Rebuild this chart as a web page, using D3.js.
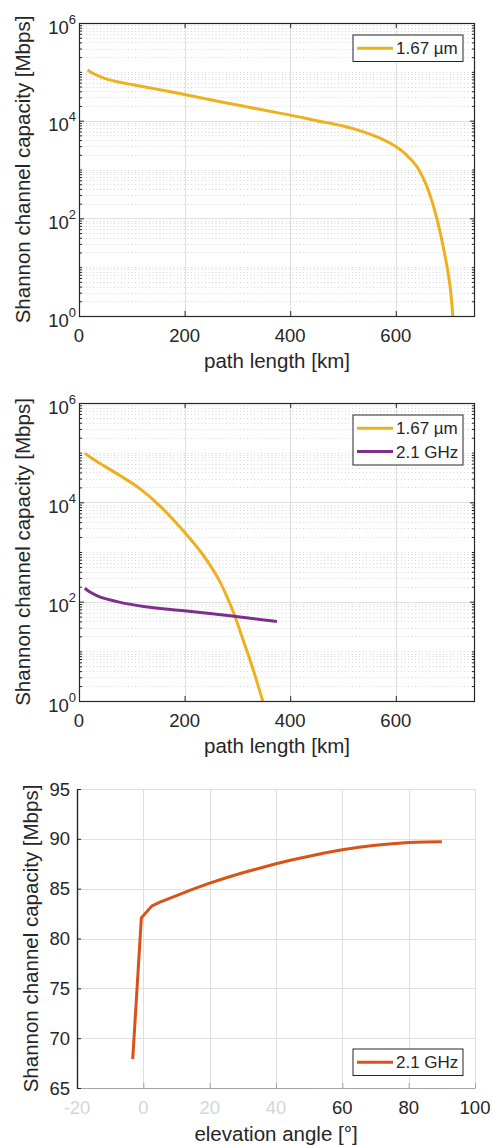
<!DOCTYPE html>
<html>
<head>
<meta charset="utf-8">
<script src="https://cdn.jsdelivr.net/npm/d3@7"></script>
<style>
  html, body { margin: 0; padding: 0; background: #fff; }
  svg text { font-family: "Liberation Sans", Arial, Helvetica, sans-serif; fill: #262626; }
</style>
</head>
<body>
<svg id="fig" width="492" height="1145"></svg>
<script>
// ---- Panel 1: 1.67 µm capacity vs path length ----
const pathA_167um = [16, 30, 50, 75, 100, 150, 200, 300, 400, 450, 500, 530, 570, 600, 620, 640, 655, 667, 680, 692, 702, 708];
const capA_167um  = [1.096e5, 8.91e4, 7.24e4, 6.17e4, 5.5e4, 4.37e4, 3.43e4, 2.09e4, 1.30e4, 1.0e4, 7.76e3, 6.31e3, 4.37e3, 2.95e3, 2.0e3, 1.15e3, 562, 251, 79, 20, 4.7, 1.0];

// ---- Panel 2: 1.67 µm and 2.1 GHz capacity vs path length ----
const pathB_167um = [11, 25, 40, 76, 114, 151, 199, 233, 265, 290, 315, 334, 348];
const capB_167um  = [9.77e4, 7.59e4, 6.03e4, 3.55e4, 1.93e4, 8.9e3, 2.57e3, 933, 275, 71, 12.6, 3.1, 1.0];
const pathB_21GHz = [11, 20, 38, 76, 126, 199, 290, 375];
const capB_21GHz  = [186, 158, 126, 98, 79.4, 65.3, 51.3, 39.8];

// ---- Panel 3: 2.1 GHz capacity vs elevation angle ----
const elevC_21GHz = [-3.2, -0.6, 2.5, 5, 10, 15, 20, 25, 30, 35, 40, 45, 50, 55, 60, 65, 70, 75, 80, 85, 90];
const capC_21GHz  = [67.9, 82.06, 83.25, 83.65, 84.3, 84.95, 85.55, 86.1, 86.6, 87.05, 87.5, 87.9, 88.25, 88.6, 88.9, 89.15, 89.35, 89.5, 89.62, 89.68, 89.7];

// ---- Axis ticks ----
const pathTicks = [0, 200, 400, 600];
const logTickExponents = [0, 2, 4, 6];
const elevTicks = [-20, 0, 20, 40, 60, 80, 100];
const capTicks = [65, 70, 75, 80, 85, 90, 95];

const legendLabels = { um: "1.67 µm", ghz: "2.1 GHz" };

const INK = "#262626";
const GRID = "#dfdfdf";
const MINOR = "#d6d6d6";
const COL_YEL = "#EDB120", COL_PUR = "#7E2F8E", COL_ORA = "#D95319";
const TICK_FS = 18.5, TITLE_FS = 20.5;

const svg = d3.select("#fig");
const zip = (xs, ys) => xs.map((v, i) => [v, ys[i]]);

function legend(g, x0, y0, items) {
  const h = 26.5 + (items.length - 1) * 23.5;
  const lg = g.append("g");
  lg.append("rect").attr("x", x0).attr("y", y0).attr("width", 110).attr("height", h)
    .attr("fill", "#fff").attr("stroke", INK).attr("stroke-width", 1);
  items.forEach((it, i) => {
    const yy = y0 + 13.3 + i * 23.3;
    lg.append("line").attr("x1", x0 + 4).attr("x2", x0 + 40).attr("y1", yy).attr("y2", yy)
      .attr("stroke", it.color).attr("stroke-width", 3);
    lg.append("text").attr("x", x0 + 43).attr("y", yy + 6).attr("font-size", 17).text(it.label);
  });
}

function logPanel(top, bottom, series, legendItems) {
  const L = 79, R = 475;
  const g = svg.append("g");
  const x = d3.scaleLinear().domain([0, 750]).range([L, R]);
  const y = d3.scaleLog().domain([1, 1e6]).range([bottom, top]);

  // minor (dotted) and major (solid) horizontal grid
  const minorVals = [];
  for (let k = 0; k < 6; k++) {
    for (let m = 2; m <= 9; m++) minorVals.push(m * Math.pow(10, k));
    if (k % 2 === 1) minorVals.push(Math.pow(10, k));
  }
  g.append("g").selectAll("line").data(minorVals).join("line")
    .attr("x1", L).attr("x2", R)
    .attr("y1", d => Math.round(y(d)) + 0.5).attr("y2", d => Math.round(y(d)) + 0.5)
    .attr("stroke", MINOR).attr("stroke-width", 1).attr("stroke-dasharray", "1,2.5");
  g.append("g").selectAll("line").data([1e2, 1e4]).join("line")
    .attr("x1", L).attr("x2", R)
    .attr("y1", d => Math.round(y(d)) + 0.5).attr("y2", d => Math.round(y(d)) + 0.5)
    .attr("stroke", GRID).attr("stroke-width", 1);
  g.append("g").selectAll("line").data(pathTicks.slice(1)).join("line")
    .attr("y1", top).attr("y2", bottom)
    .attr("x1", d => Math.round(x(d)) + 0.5).attr("x2", d => Math.round(x(d)) + 0.5)
    .attr("stroke", GRID).attr("stroke-width", 1);

  // inward ticks on all four sides
  const majors = logTickExponents.map(e => Math.pow(10, e));
  const addAxis = (gen, tx, ty) => {
    const a = g.append("g").attr("transform", `translate(${tx},${ty})`).call(gen);
    a.select(".domain").remove();
    a.selectAll("line").attr("stroke", INK);
    a.selectAll("text").remove();
  };
  addAxis(d3.axisLeft(y).tickValues(majors).tickSize(-5).tickFormat(""), L, 0);
  addAxis(d3.axisRight(y).tickValues(majors).tickSize(-5).tickFormat(""), R, 0);
  addAxis(d3.axisLeft(y).tickValues(minorVals).tickSize(-3).tickFormat(""), L, 0);
  addAxis(d3.axisRight(y).tickValues(minorVals).tickSize(-3).tickFormat(""), R, 0);
  addAxis(d3.axisBottom(x).tickValues(pathTicks).tickSize(-5).tickFormat(""), 0, bottom);
  addAxis(d3.axisTop(x).tickValues(pathTicks).tickSize(-5).tickFormat(""), 0, top);

  // data
  const line = d3.line().x(d => x(d[0])).y(d => y(d[1])).curve(d3.curveCatmullRom.alpha(0.5));
  series.forEach(s => {
    g.append("path").datum(zip(s.x, s.y)).attr("d", line)
      .attr("fill", "none").attr("stroke", s.color).attr("stroke-width", 3)
      .attr("stroke-linejoin", "round");
  });

  // frame
  g.append("rect").attr("x", L + 0.5).attr("y", top + 0.5)
    .attr("width", R - L - 1).attr("height", bottom - top)
    .attr("fill", "none").attr("stroke", INK).attr("stroke-width", 1.2);

  // tick labels
  g.append("g").selectAll("text").data(pathTicks).join("text")
    .attr("x", d => x(d)).attr("y", bottom + 26).attr("text-anchor", "middle")
    .attr("font-size", TICK_FS).text(d => d);
  const yl = g.append("g").selectAll("text").data(logTickExponents).join("text")
    .attr("x", L - 3).attr("y", d => y(Math.pow(10, d)) + 10.5)
    .attr("text-anchor", "end").attr("font-size", TICK_FS);
  yl.append("tspan").text("10");
  yl.append("tspan").attr("dy", -10).attr("font-size", 13).text(d => d);

  // titles
  g.append("text").attr("x", (L + R) / 2).attr("y", bottom + 52).attr("text-anchor", "middle")
    .attr("font-size", TITLE_FS).text("path length [km]");
  g.append("text").attr("transform", `translate(30,${(top + bottom) / 2}) rotate(-90)`)
    .attr("text-anchor", "middle").attr("font-size", TITLE_FS).text("Shannon channel capacity [Mbps]");

  legend(g, 353, top + 12, legendItems);
}

// Panel 1
logPanel(23, 316,
  [{ x: pathA_167um, y: capA_167um, color: COL_YEL }],
  [{ label: legendLabels.um, color: COL_YEL }]);

// Panel 2
logPanel(403, 701,
  [{ x: pathB_167um, y: capB_167um, color: COL_YEL },
   { x: pathB_21GHz, y: capB_21GHz, color: COL_PUR }],
  [{ label: legendLabels.um, color: COL_YEL }, { label: legendLabels.ghz, color: COL_PUR }]);

// Panel 3: linear axes, no box
(function () {
  const L = 77, R = 475, top = 789, bottom = 1088;
  const g = svg.append("g");
  const x = d3.scaleLinear().domain([-20, 100]).range([L, R]);
  const y = d3.scaleLinear().domain([65, 95]).range([bottom, top]);

  g.append("g").selectAll("line").data(elevTicks.slice(1)).join("line")
    .attr("y1", top).attr("y2", bottom)
    .attr("x1", d => Math.round(x(d)) + 0.5).attr("x2", d => Math.round(x(d)) + 0.5)
    .attr("stroke", GRID).attr("stroke-width", 1);
  g.append("g").selectAll("line").data(capTicks.slice(1)).join("line")
    .attr("x1", L).attr("x2", R)
    .attr("y1", d => Math.round(y(d)) + 0.5).attr("y2", d => Math.round(y(d)) + 0.5)
    .attr("stroke", GRID).attr("stroke-width", 1);

  // bottom axis (grey) and left axis (dark)
  const xa = g.append("g").attr("transform", `translate(0,${bottom})`)
    .call(d3.axisBottom(x).tickValues(elevTicks).tickSize(-5).tickSizeOuter(0).tickFormat(""));
  xa.select(".domain").attr("stroke", "#a6a6a6").attr("stroke-width", 1.2);
  xa.selectAll("line").attr("stroke", "#a6a6a6");
  xa.selectAll("text").remove();

  const ya = g.append("g").attr("transform", `translate(${L},0)`)
    .call(d3.axisLeft(y).tickValues(capTicks).tickSize(-4).tickSizeOuter(0).tickFormat(""));
  ya.select(".domain").attr("stroke", INK).attr("stroke-width", 1.4);
  ya.selectAll("line").attr("stroke", INK);
  ya.selectAll("text").remove();

  const line = d3.line().x(d => x(d[0])).y(d => y(d[1]));
  g.append("path").datum(zip(elevC_21GHz, capC_21GHz)).attr("d", line)
    .attr("fill", "none").attr("stroke", COL_ORA).attr("stroke-width", 3)
    .attr("stroke-linejoin", "round");

  g.append("g").selectAll("text").data(elevTicks).join("text")
    .attr("x", d => x(d)).attr("y", bottom + 26).attr("text-anchor", "middle")
    .attr("font-size", TICK_FS).style("fill", d => d < 50 ? "#d6d6d6" : INK).text(d => d);
  g.append("g").selectAll("text").data(capTicks).join("text")
    .attr("x", L - 7).attr("y", d => y(d) + 6.5).attr("text-anchor", "end")
    .attr("font-size", TICK_FS).text(d => d);

  g.append("text").attr("x", (L + R) / 2).attr("y", bottom + 53).attr("text-anchor", "middle")
    .attr("font-size", TITLE_FS).text("elevation angle [°]");
  g.append("text").attr("transform", `translate(38,${(top + bottom) / 2}) rotate(-90)`)
    .attr("text-anchor", "middle").attr("font-size", TITLE_FS).text("Shannon channel capacity [Mbps]");

  legend(g, 353, 1049, [{ label: legendLabels.ghz, color: COL_ORA }]);
})();
</script>
</body>
</html>
